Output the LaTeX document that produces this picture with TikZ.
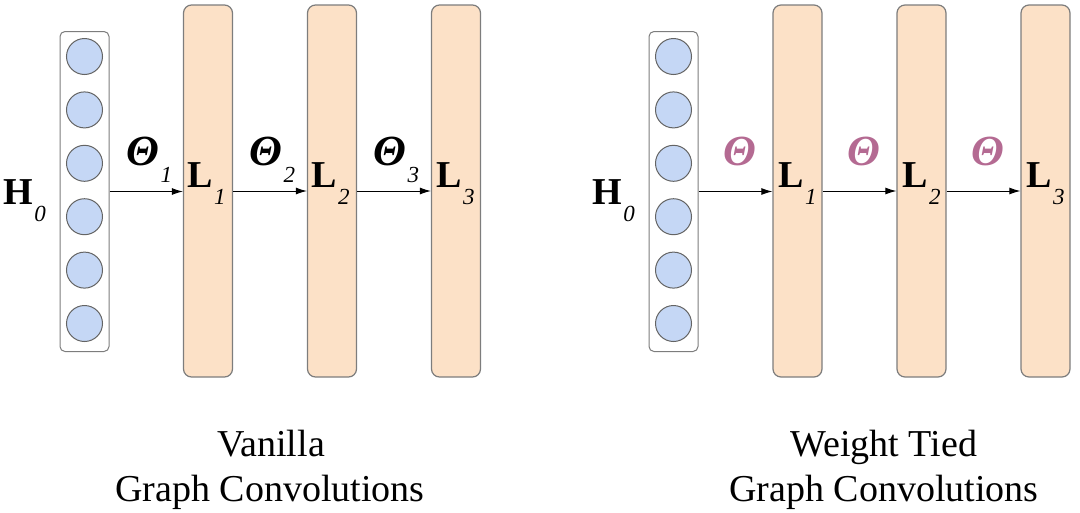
\documentclass[tikz,border=0pt]{standalone}
\usepackage{fontspec}
\setmainfont{Liberation Serif}
\usetikzlibrary{arrows.meta}
\definecolor{nodefill}{RGB}{197,215,245}
\definecolor{nodeline}{RGB}{100,100,100}
\definecolor{barfill}{RGB}{252,225,199}
\definecolor{barline}{RGB}{125,125,125}
\definecolor{tiedcol}{RGB}{180,106,146}
\newcommand\mainsym[2]{#1\kern1.5pt\raisebox{-17pt}{\fontsize{23}{23}\selectfont\mdseries\itshape #2}}
\begin{document}
\begin{tikzpicture}[x=1pt,y=-1pt,
  inputbox/.style={draw=barline, line width=1pt, rounded corners=5pt, minimum width=49pt, minimum height=320pt, inner sep=0pt, fill=white},
  unit/.style={circle, draw=nodeline, fill=nodefill, line width=1pt, minimum size=36pt, inner sep=0pt},
  layer/.style={draw=barline, fill=barfill, line width=1.2pt, rounded corners=8pt, minimum width=49pt, minimum height=372pt, inner sep=0pt},
  flow/.style={-{Latex[length=11pt,width=7pt]}, line width=1pt},
  lab/.style={anchor=base west, inner sep=0pt},
  boldlab/.style={lab, font=\fontsize{38}{38}\selectfont\bfseries},
  thetalab/.style={inner sep=0pt, font=\fontsize{43}{43}\selectfont\bfseries\itshape},
  captionlab/.style={anchor=base, inner sep=0pt, font=\fontsize{38}{38}\selectfont}]
\useasboundingbox (0,0) rectangle (1080,512);

% ---------------- left panel: vanilla ----------------
\node[inputbox] (inL) at (84.5,191.5) {};
\foreach \i in {1,...,6} {
  \node[unit] (cL\i) at (84.5,{56.5+53.4*(\i-1)}) {};
}
\node[layer] (La) at (208,191) {};
\node[layer] (Lb) at (332,191) {};
\node[layer] (Lc) at (456,191) {};
\draw[flow] (inL.east) -- (inL.east -| La.west);
\draw[flow] (La.east) -- (Lb.west);
\draw[flow] (Lb.east) -- (Lc.west);

\node[boldlab] (hL) at (3,204) {\mainsym{H}{0}};
\node[thetalab, anchor=base west] (tL1) at (126,165) {\mainsym{Θ}{1}};
\node[thetalab, anchor=base west] (tL2) at (249,165) {\mainsym{Θ}{2}};
\node[thetalab, anchor=base west] (tL3) at (373,165) {\mainsym{Θ}{3}};
\node[boldlab] (lL1) at (187,187) {\mainsym{L}{1}};
\node[boldlab] (lL2) at (311,187) {\mainsym{L}{2}};
\node[boldlab] (lL3) at (436,187) {\mainsym{L}{3}};

\node[captionlab] (capL1) at (271,456) {Vanilla};
\node[captionlab] (capL2) at (270,501) {Graph Convolutions};

% ---------------- right panel: weight tied ----------------
\node[inputbox] (inR) at (673.5,191.5) {};
\foreach \i in {1,...,6} {
  \node[unit] (cR\i) at (673.5,{56.5+53.4*(\i-1)}) {};
}
\node[layer] (Ra) at (797.5,191) {};
\node[layer] (Rb) at (921.5,191) {};
\node[layer] (Rc) at (1045.5,191) {};
\draw[flow] (inR.east) -- (inR.east -| Ra.west);
\draw[flow] (Ra.east) -- (Rb.west);
\draw[flow] (Rb.east) -- (Rc.west);

\node[boldlab] (hR) at (592,204) {\mainsym{H}{0}};
\node[thetalab, anchor=base, text=tiedcol] (tR1) at (740,165) {Θ};
\node[thetalab, anchor=base, text=tiedcol] (tR2) at (864,165) {Θ};
\node[thetalab, anchor=base, text=tiedcol] (tR3) at (988,165) {Θ};
\node[boldlab] (lR1) at (778,187) {\mainsym{L}{1}};
\node[boldlab] (lR2) at (902,187) {\mainsym{L}{2}};
\node[boldlab] (lR3) at (1026,187) {\mainsym{L}{3}};

\node[captionlab] (capR1) at (884,456) {Weight Tied};
\node[captionlab] (capR2) at (884,501) {Graph Convolutions};
\end{tikzpicture}
\end{document}
